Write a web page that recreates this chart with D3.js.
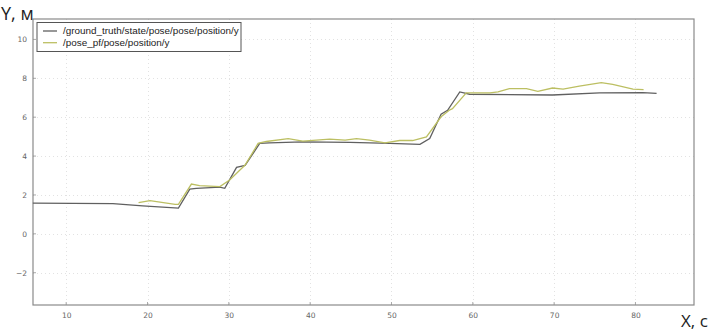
<!DOCTYPE html>
<html><head><meta charset="utf-8">
<script src="https://cdn.jsdelivr.net/npm/d3@7"></script>
<style>body{margin:0;background:#fff;} svg{display:block;}</style>
</head><body>
<svg id="c" width="713" height="331"></svg>
<script>
const seriesNames = ["/ground_truth/state/pose/pose/position/y", "/pose_pf/pose/position/y"];
const truthX = [5.9, 15.75, 19.4, 23.8, 25.2, 26.0, 28.9, 29.5, 30.95, 32.0, 33.8, 35.0, 39.1, 44.9, 49.8, 53.5, 54.7, 56.1, 56.9, 58.4, 58.9, 59.6, 69.8, 75.6, 80.9, 82.6];
const truthY = [1.58, 1.55, 1.44, 1.32, 2.3, 2.34, 2.4, 2.34, 3.42, 3.52, 4.65, 4.68, 4.73, 4.7, 4.65, 4.6, 4.9, 6.15, 6.35, 7.3, 7.25, 7.18, 7.14, 7.25, 7.26, 7.22];
const pfX = [18.9, 20.3, 23.4, 23.8, 25.4, 26.4, 28.9, 30.1, 32.0, 33.6, 34.6, 37.3, 39.1, 42.4, 44.3, 45.7, 47.3, 49.2, 51.0, 52.6, 54.3, 56.1, 57.1, 57.5, 59.2, 62.1, 63.1, 64.5, 66.6, 68.0, 69.8, 71.1, 73.1, 75.8, 77.2, 79.7, 81.0];
const pfY = [1.6, 1.71, 1.52, 1.52, 2.56, 2.48, 2.43, 2.77, 3.54, 4.65, 4.75, 4.9, 4.77, 4.87, 4.82, 4.9, 4.82, 4.68, 4.8, 4.8, 4.99, 6.02, 6.36, 6.44, 7.25, 7.25, 7.3, 7.47, 7.47, 7.33, 7.5, 7.44, 7.6, 7.78, 7.69, 7.44, 7.42];
const xTicks = [10, 20, 30, 40, 50, 60, 70, 80];
const yTicks = [-2, 0, 2, 4, 6, 8, 10];
const xLabel = "X, с";
const yLabel = "Y, м";

const colors = ["#606060", "#bcbf62"];
const L = 33, R = 694, T = 19, B = 305;
const svg = d3.select("#c");
const x = d3.scaleLinear().domain([5.92, 87.2]).range([L, R]);
const y = d3.scaleLinear().domain([-3.66, 11.05]).range([B, T]);

// grid
const grid = svg.append("g");
grid.selectAll(".gx").data(xTicks).join("line")
  .attr("x1", d => Math.round(x(d)) + 0.5).attr("x2", d => Math.round(x(d)) + 0.5)
  .attr("y1", T).attr("y2", B)
  .attr("stroke", "#e2e2e2").attr("stroke-dasharray", "1,3").attr("stroke-width", 1);
grid.selectAll(".gy").data(yTicks).join("line")
  .attr("y1", d => Math.round(y(d)) + 0.5).attr("y2", d => Math.round(y(d)) + 0.5)
  .attr("x1", L).attr("x2", R)
  .attr("stroke", "#e2e2e2").attr("stroke-dasharray", "1,3").attr("stroke-width", 1);

// axes
const xAxis = d3.axisBottom(x).tickValues(xTicks).tickSize(0).tickPadding(8).tickFormat(d3.format("d"));
const yAxis = d3.axisLeft(y).tickValues(yTicks).tickSize(0).tickPadding(6).tickFormat(d => d < 0 ? "\u2212" + Math.abs(d) : d);
const gx = svg.append("g").attr("transform", `translate(0,${B})`).call(xAxis);
const gy = svg.append("g").attr("transform", `translate(${L},0)`).call(yAxis);
[gx, gy].forEach(g => {
  g.select(".domain").remove();
  g.selectAll("text").attr("font-family", "DejaVu Sans").attr("font-size", 7.5).attr("fill", "#666");
});

// tick marks inside
svg.append("g").selectAll("line").data(xTicks).join("line")
  .attr("x1", d => x(d)).attr("x2", d => x(d)).attr("y1", B).attr("y2", B - 3).attr("stroke", "#aaa");
svg.append("g").selectAll("line").data(yTicks).join("line")
  .attr("y1", d => y(d)).attr("y2", d => y(d)).attr("x1", L).attr("x2", L + 3).attr("stroke", "#aaa");

// frame
svg.append("rect").attr("x", L).attr("y", T).attr("width", R - L).attr("height", B - T)
  .attr("fill", "none").attr("stroke", "#8a8a8a").attr("stroke-width", 1.2);

// lines
const line = d3.line().x(d => x(d[0])).y(d => y(d[1]));
svg.append("path").datum(d3.zip(truthX, truthY)).attr("d", line)
  .attr("fill", "none").attr("stroke", colors[0]).attr("stroke-width", 1.3);
svg.append("path").datum(d3.zip(pfX, pfY)).attr("d", line)
  .attr("fill", "none").attr("stroke", colors[1]).attr("stroke-width", 1.3);

// legend
const lg = svg.append("g");
lg.append("rect").attr("x", 37).attr("y", 22.5).attr("width", 204).attr("height", 29)
  .attr("fill", "#fff").attr("stroke", "#555").attr("stroke-width", 1);
seriesNames.forEach((n, i) => {
  const yy = 31 + i * 11.7;
  lg.append("line").attr("x1", 43).attr("x2", 57).attr("y1", yy).attr("y2", yy)
    .attr("stroke", colors[i]).attr("stroke-width", 1.3);
  lg.append("text").attr("x", 63).attr("y", yy + 3.4).text(n)
    .attr("font-family", "Liberation Sans").attr("font-size", 9.9).attr("fill", "#222");
});

// axis titles
svg.append("text").attr("x", 1).attr("y", 20).text(yLabel)
  .attr("font-family", "Open Sans").attr("font-size", 18).attr("fill", "#222");
svg.append("text").attr("x", 681).attr("y", 327).text(xLabel)
  .attr("font-family", "Open Sans").attr("font-size", 17).attr("fill", "#222");
</script>
</body></html>
